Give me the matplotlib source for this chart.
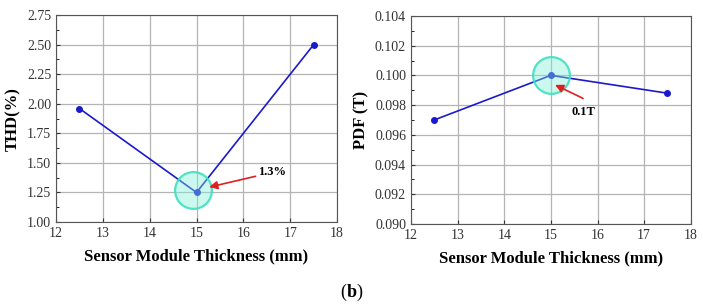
import matplotlib.pyplot as plt
from matplotlib.ticker import MultipleLocator

plt.rcParams['font.family'] = ['Liberation Serif', 'DejaVu Serif']

# data
thickness = [12.5, 15.0, 17.5]
thd = [1.96, 1.25, 2.50]
pdf = [0.0970, 0.1000, 0.0988]

lineColor = '#1a1acc'
circleFace = (0.5, 0.94, 0.85, 0.4)
circleEdge = (0.25, 0.88, 0.75, 0.9)

fig = plt.figure(figsize=(7.03, 3.06), dpi=100)
axL = fig.add_axes([0.0797, 0.2745, 0.3997, 0.676])
axR = fig.add_axes([0.5846, 0.268, 0.398, 0.680])


def style_axes(ax):
    ax.grid(True, color='#b4b4b4', linewidth=0.9)
    ax.set_axisbelow(True)
    ax.tick_params(direction='in', labelsize=10, length=3, colors='#333333')
    ax.tick_params(which='minor', direction='in', length=2)
    for s in ax.spines.values():
        s.set_color('#555555')
        s.set_linewidth(0.8)
    ax.set_xlim(12, 18)
    ax.xaxis.set_major_locator(MultipleLocator(1))
    ax.set_xlabel('Sensor Module Thickness (mm)', fontsize=12, fontweight='bold', labelpad=6)


# left panel: THD
axL.plot(thickness, thd, color=lineColor, linewidth=1.2, marker='o', markersize=4)
style_axes(axL)
axL.set_ylim(1.0, 2.75)
axL.yaxis.set_major_locator(MultipleLocator(0.25))
axL.yaxis.set_minor_locator(MultipleLocator(0.125))
axL.yaxis.set_major_formatter(lambda v, p: '%.2f' % v)
axL.set_ylabel('THD(%)', fontsize=12, fontweight='bold', labelpad=4)
axL.scatter([14.93], [1.27], s=700, facecolor=circleFace, edgecolor=circleEdge,
            linewidth=1.6, zorder=5)
axL.annotate('1.3%', xy=(15.27, 1.295), xytext=(16.32, 1.42),
             fontsize=9, fontweight='bold', ha='left', va='center', zorder=6,
             arrowprops=dict(arrowstyle='-|>', color='#e02020', lw=1.2,
                             mutation_scale=12, shrinkA=0, shrinkB=0))

# right panel: PDF
axR.plot(thickness, pdf, color=lineColor, linewidth=1.2, marker='o', markersize=4)
style_axes(axR)
axR.set_ylim(0.090, 0.104)
axR.yaxis.set_major_locator(MultipleLocator(0.002))
axR.yaxis.set_minor_locator(MultipleLocator(0.001))
axR.yaxis.set_major_formatter(lambda v, p: '%.3f' % v)
axR.set_ylabel('PDF (T)', fontsize=12, fontweight='bold', labelpad=4)
axR.scatter([15.0], [0.1000], s=700, facecolor=circleFace, edgecolor=circleEdge,
            linewidth=1.6, zorder=5)
axR.annotate('', xy=(15.09, 0.09936), xytext=(15.69, 0.09845), zorder=6,
             arrowprops=dict(arrowstyle='-|>', color='#e02020', lw=1.2,
                             mutation_scale=12, shrinkA=0, shrinkB=0))
axR.text(15.69, 0.09752, '0.1T', fontsize=9, fontweight='bold', ha='center', va='center')

# panel label
fig.text(0.493, 0.045, '(', fontsize=13, ha='right', va='center')
fig.text(0.493, 0.045, 'b', fontsize=13, fontweight='bold', ha='left', va='center')
fig.text(0.507, 0.045, ')', fontsize=13, ha='left', va='center')

fig.savefig('out.png', dpi=100, facecolor='white')
